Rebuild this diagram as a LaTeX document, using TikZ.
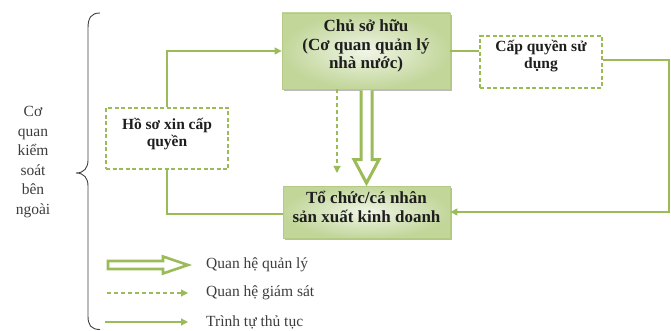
\documentclass[tikz,border=0pt]{standalone}
\usepackage{fontspec}
\setmainfont{Liberation Serif}
\usetikzlibrary{arrows.meta,calc,shadows}
\definecolor{lg}{HTML}{9BBB59}
\definecolor{boxout}{HTML}{C2D69A}
\definecolor{boxin}{HTML}{F0F5E6}
\definecolor{boxedge}{HTML}{B3CB85}
\definecolor{txt}{HTML}{1E1E1E}
\definecolor{ltxt}{HTML}{3C3C3C}
\tikzset{
  mainbox/.style={rectangle, draw=boxedge, line width=0.8pt, inner color=boxin, outer color=boxout,
    drop shadow={shadow xshift=2pt, shadow yshift=-2pt, opacity=0.45, fill=black!60}},
  dbox/.style={rectangle, draw=lg, line width=1.2pt, dash pattern=on 4pt off 2.5pt, fill=white},
  maintext/.style={align=center, text=txt, inner sep=0pt, font=\fontsize{17}{18.5}\selectfont\bfseries},
  dtext/.style={align=center, text=txt, inner sep=0pt, font=\fontsize{15.5}{17.5}\selectfont\bfseries},
  flow/.style={draw=lg, line width=1.3pt},
  dflow/.style={draw=lg, line width=1.2pt, dash pattern=on 4pt off 3pt},
  tip/.style={-{Triangle[length=7pt,width=7pt]}},
  hollow/.style={draw=lg, line width=3pt, fill=white, line join=miter},
  lbl/.style={text=ltxt, font=\fontsize{15.5}{19.5}\selectfont, inner sep=0pt},
}
\begin{document}
\begin{tikzpicture}[x=1pt,y=-1pt]
\useasboundingbox (0,0) rectangle (671,331);
% left label and brace
\node[lbl, align=center] (ext) at (33,162) {Cơ\\quan\\kiểm\\soát\\bên\\ngoài};
\draw[black!75, line width=0.9pt] (100,13) .. controls (91,13) and (88,18) .. (88,28) -- (88,160)
  .. controls (88,168) and (84,173) .. (76,173) .. controls (84,173) and (88,178) .. (88,186)
  -- (88,316) .. controls (88,325) and (91,329.5) .. (100,329.5);
% boxes
\node[mainbox, minimum width=168pt, minimum height=76pt] (owner) at (366,51) {};
\node[maintext] (ownert) at (366,46) {Chủ sở hữu\\(Cơ quan quản lý\\nhà nước)};
\node[dbox, minimum width=122pt, minimum height=61pt] (hoso) at (167,138.5) {};
\node[dtext] (hosot) at (167,134) {Hồ sơ xin cấp\\quyền};
\node[dbox, minimum width=122pt, minimum height=52pt] (capq) at (541,62) {};
\node[dtext] (capqt) at (541,56) {Cấp quyền sử\\dụng};
\node[mainbox, minimum width=167pt, minimum height=52pt] (org) at (366.5,212) {};
\node[maintext] (orgt) at (366.5,207) {Tổ chức/cá nhân\\sản xuất kinh doanh};
% connectors
\draw[flow, tip] (hoso.north) |- (owner.west);
\draw[flow] (hoso.south) |- ($(org.west)+(0,2)$);
\draw[flow] (owner.east) -- (owner.east -| capq.west);
\coordinate (rc) at (669,0);
\coordinate (cq) at (0,60);
\draw[flow, tip] (capq.east |- cq) -- (rc |- cq) -- (rc |- org.east) -- (org.east);
\coordinate (dend) at (337,173);
\draw[dflow, tip] (owner.south -| dend) -- (dend);
% hollow arrow
\draw[hollow] ($(owner.south -| org.north)+(-5.5,1)$) -- ($(org.north)+(-5.5,-26)$) -- ($(org.north)+(-12.5,-26)$)
  -- ($(org.north)+(0,-2.5)$) -- ($(org.north)+(12.5,-26)$) -- ($(org.north)+(5.5,-26)$) -- ($(owner.south -| org.north)+(5.5,1)$);
% legend
\coordinate (la) at (108,265);
\coordinate (lb) at (107,293);
\coordinate (lc) at (105,322);
\node[lbl, anchor=west] (ta) at (206,265) {Quan hệ quản lý};
\node[lbl, anchor=west] (tb) at (206,293) {Quan hệ giám sát};
\node[lbl, anchor=west] (tc) at (206,322) {Trình tự thủ tục};
\draw[hollow, line width=2.6pt] ($(la)+(0,-4)$) -- ($(la)+(55,-4)$) -- ($(la)+(55,-8.5)$) -- ($(ta.west)+(-18,0)$)
  -- ($(la)+(55,8.5)$) -- ($(la)+(55,4)$) -- ($(la)+(0,4)$) -- cycle;
\draw[dflow, tip] (lb) -- ($(tb.west)+(-18,0)$);
\draw[flow, tip] (lc) -- ($(tc.west)+(-18,0)$);
\end{tikzpicture}
\end{document}
